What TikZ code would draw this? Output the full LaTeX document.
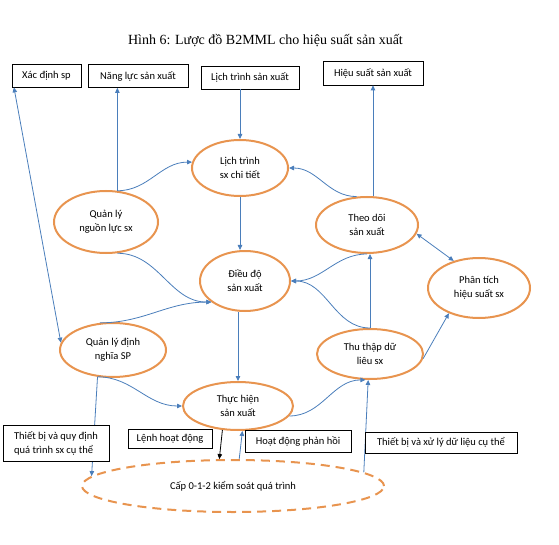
\documentclass[tikz,border=0pt]{standalone}
\usepackage{fontspec}
\setmainfont{Carlito}
\newfontfamily\titlefont{Liberation Serif}
\usepackage{tikz}
\usetikzlibrary{arrows.meta,shapes.geometric}
\definecolor{procorange}{HTML}{E8944F}
\definecolor{flowblue}{HTML}{4A7EBB}

\begin{document}
\begin{tikzpicture}[x=1pt,y=-1pt,
    >={Triangle[length=5pt,width=4.5pt]},
    proc/.style={ellipse,draw=procorange,line width=2pt,inner sep=0pt,
      align=center,font=\fontsize{10.5}{14}\selectfont},
    capring/.style={ellipse,draw=procorange,line width=2pt,
      dash pattern=on 9pt off 6pt,inner sep=0pt,font=\fontsize{10.5}{12}\selectfont},
    lbl/.style={draw=black,line width=0.7pt,fill=white,inner sep=0pt,
      align=left,font=\fontsize{10.5}{14}\selectfont},
    flow/.style={->,draw=flowblue,line width=0.8pt}]
  \useasboundingbox (0,0) rectangle (559,545);

  \node[font=\titlefont\fontsize{14}{16}\selectfont,anchor=base] (title) at (265.5,45)
    {Hình 6: Lược đồ B2MML cho hiệu suất sản xuất};

  % hop tren
  \node[lbl,minimum width=69,minimum height=23] (bxd) at (46.5,75.5) {Xác định sp};
  \node[lbl,minimum width=100,minimum height=23] (bnl) at (138,76) {Năng lực sản xuất};
  \node[lbl,minimum width=98,minimum height=23] (blt) at (250,77.5) {Lịch trình sản xuất};
  \node[lbl,minimum width=100,minimum height=24] (bhs) at (373,73) {Hiệu suất sản xuất};

  % cac chuc nang
  \node[proc,minimum width=96,minimum height=56] (lt) at (240,168) {Lịch trình\\sx chi tiết};
  \node[proc,minimum width=104,minimum height=62] (qlnl) at (106,222) {Quản lý\\nguồn lực sx};
  \node[proc,minimum width=90,minimum height=60] (dd) at (245,281) {Điều độ\\sản xuất};
  \node[proc,minimum width=102,minimum height=56] (td) at (367,225) {Theo dõi\\sản xuất};
  \node[proc,minimum width=102,minimum height=60] (pt) at (479,288) {Phân tích\\hiệu suất sx};
  \node[proc,minimum width=106,minimum height=54] (qldn) at (113,350) {Quản lý định\\nghĩa SP};
  \node[proc,minimum width=110,minimum height=48] (th) at (238,406) {Thực hiện\\sản xuất};
  \node[proc,minimum width=106,minimum height=50] (ttd) at (370,354) {Thu thập dữ\\liêu sx};
  \node[capring,minimum width=302,minimum height=52] (cap) at (233,486) {Cấp 0-1-2 kiểm soát quá trình};

  % luong thong tin
  \draw[flow,<->] (bxd.200) -- (qldn.172);
  \draw[flow] (qlnl.70) -- (qlnl.70 |- bnl.south);
  \draw[flow] (lt.north |- blt.south) -- (lt.north);
  \draw[flow] (bhs.south |- td.north) -- (bhs.south);
  \draw[flow] (qlnl.70) to[out=0,in=180] (lt.173);
  \draw[flow] (qlnl.-70) to[out=0,in=180] (dd.212);
  \draw[flow] (qldn.116) to[out=0,in=180] (dd.212);
  \draw[flow] (lt.south) -- (lt.south |- dd.north);
  \draw[flow] (td.110) to[out=180,in=0] (lt.east);
  \draw[flow,<->] (td.-10) -- (pt.133);
  \draw[flow] (td.south) to[out=180,in=0] (dd.east);
  \draw[flow] (ttd.north) to[out=180,in=0] (dd.east);
  \draw[flow] (ttd.north) -- (ttd.north |- td.south);
  \draw[flow] (ttd.-5) -- (pt.220);
  \draw[flow] (th.north |- dd.south) -- (th.north);
  \draw[flow] (qldn.240) to[out=0,in=180] (th.west);
  \draw[flow] (th.-11) to[out=0,in=180] (ttd.-100);
  \draw[flow] (qldn.240) -- (cap.176);
  \draw[flow,draw=black] (th.237) -- (cap.117);
  \draw[flow] (cap.77) -- (th.-80);
  \draw[flow] (cap.6) -- (ttd.-94);

  % hop duoi
  \node[lbl,minimum width=106,minimum height=36] (btb) at (56,443)
    {Thiết bị và quy định\\quá trình sx cụ thể};
  \node[lbl,minimum width=84,minimum height=19] (blenh) at (170,438.5) {Lệnh hoạt động};
  \node[lbl,minimum width=106,minimum height=22] (bhd) at (298,441) {Hoạt động phản hồi};
  \node[lbl,minimum width=152,minimum height=21] (bxl) at (441,442.5) {Thiết bị và xử lý dữ liệu cụ thể};
\end{tikzpicture}
\end{document}
